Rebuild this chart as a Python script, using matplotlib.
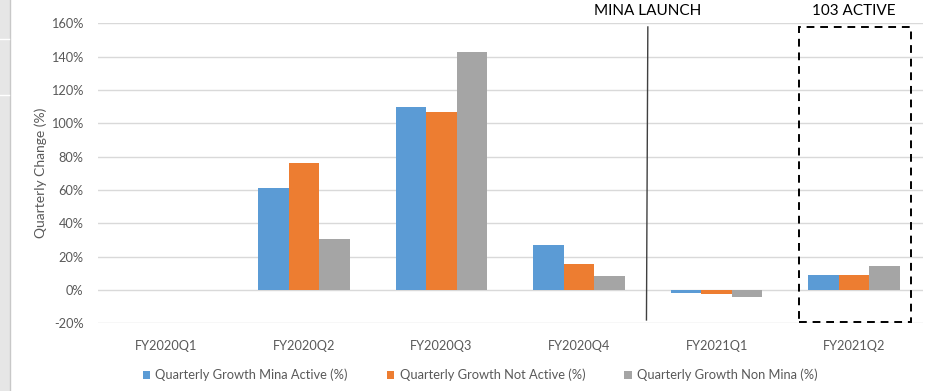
import numpy as np
import matplotlib.pyplot as plt
from matplotlib.patches import Rectangle

plt.rcParams['font.family'] = ['Lato', 'DejaVu Sans']

quarters = ['FY2020Q1', 'FY2020Q2', 'FY2020Q3', 'FY2020Q4', 'FY2021Q1', 'FY2021Q2']
mina_active = [0.0, 0.61, 1.10, 0.27, -0.02, 0.09]
not_active = [0.0, 0.76, 1.07, 0.155, -0.025, 0.09]
non_mina = [0.0, 0.305, 1.427, 0.085, -0.04, 0.141]
series_names = ['Quarterly Growth Mina Active (%)', 'Quarterly Growth Not Active (%)',
                'Quarterly Growth Non Mina (%)']
colors = ['#5B9BD5', '#ED7D31', '#A5A5A5']
yticks = [-0.2, 0, 0.2, 0.4, 0.6, 0.8, 1.0, 1.2, 1.4, 1.6]

W, H = 928, 391
fig = plt.figure(figsize=(W / 100, H / 100), dpi=100)
ax = fig.add_axes([97.5 / W, 1 - 323.3 / H, (923 - 97.5) / W, 300 / H])

x = np.arange(len(quarters))
bw = 0.222
for i, (vals, name, c) in enumerate(zip([mina_active, not_active, non_mina], series_names, colors)):
    ax.bar(x + (i - 1) * bw, vals, bw, color=c, label=name, zorder=3)

ax.set_xlim(-0.5, len(quarters) - 0.5)
ax.set_ylim(-0.2, 1.6)
ax.set_yticks(yticks)
ax.set_yticklabels([f'{round(v * 100)}%' for v in yticks])
ax.set_xticks(x)
ax.set_xticklabels(quarters)
ax.grid(axis='y', color='#D9D9D9', lw=1, zorder=0)
for s in ax.spines.values():
    s.set_visible(False)
ax.tick_params(axis='x', length=0, pad=12, labelsize=9.2, labelcolor='#595959')
ax.tick_params(axis='y', length=0, pad=10, labelsize=9.2, labelcolor='#595959')
ax.set_ylabel('Quarterly Change (%)', fontsize=10, color='#595959', labelpad=3)

# launch marker
ax.plot([3.5, 3.49], [1.578, -0.18], color='#404040', lw=1, clip_on=False, zorder=4)
ax.text(3.5, 1.63, 'MINA LAUNCH', ha='center', va='bottom', fontsize=11, color='black')

# highlighted quarter
ax.add_patch(Rectangle((4.6, -0.19), 0.816, 1.77, fill=False, ls=(0, (4, 3)), lw=1.4,
                       ec='black', clip_on=False, zorder=4))
ax.text(5.0, 1.63, '103 ACTIVE', ha='center', va='bottom', fontsize=11, color='black')

leg = fig.legend(loc='center', bbox_to_anchor=(480 / W, 1 - 375 / H), ncol=3, frameon=False,
                 fontsize=9.3, handlelength=0.6, handleheight=0.6, handletextpad=0.4,
                 columnspacing=3.0)
for t in leg.get_texts():
    t.set_color('#595959')

# left window strip
fig.patches.append(Rectangle((0, 0), 9.5 / W, 1, transform=fig.transFigure, color='#E6E6E6'))
fig.lines.append(plt.Line2D([10 / W, 10 / W], [0, 1], transform=fig.transFigure, color='#C8C8C8', lw=1))
for yy in [39, 95]:
    fig.lines.append(plt.Line2D([0, 9.5 / W], [1 - yy / H] * 2, transform=fig.transFigure,
                                color='white', lw=1))

fig.savefig('out.png', dpi=100)
